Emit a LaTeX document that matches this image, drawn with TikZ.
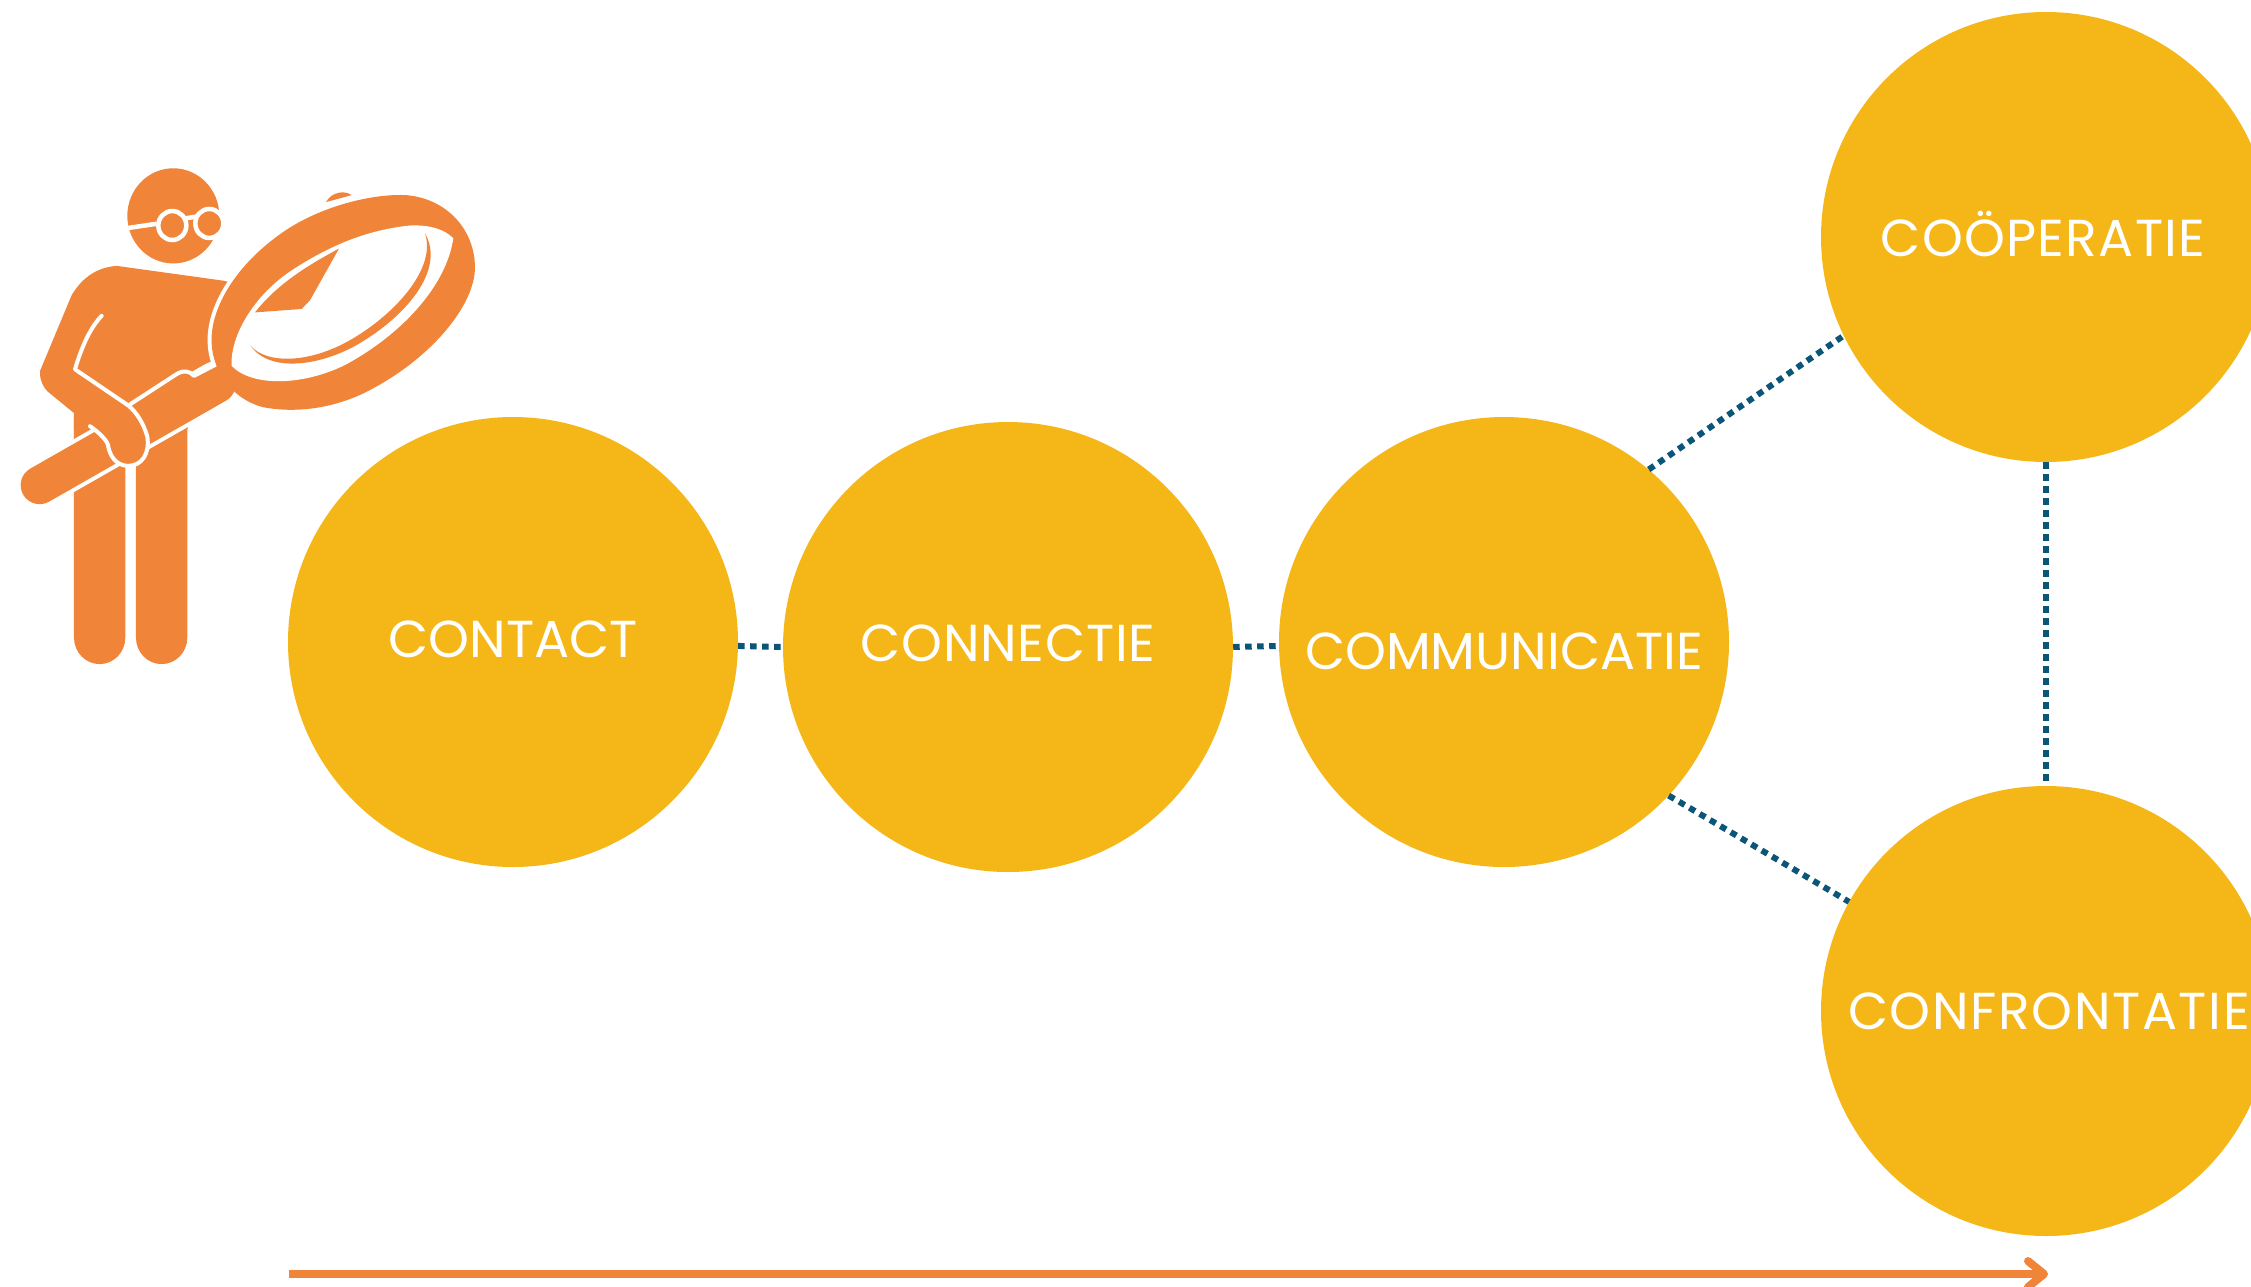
\documentclass[tikz,border=0pt]{standalone}
\usepackage{fontspec}
\setmainfont{Poppins}
\usetikzlibrary{arrows.meta}
\definecolor{gold}{HTML}{F5B618}
\definecolor{fig}{HTML}{F08539}
\definecolor{dots}{HTML}{0B5578}
\newcommand{\lbl}[3]{\raisebox{#1}[0pt][0pt]{\addfontfeature{LetterSpace=#2}#3}}
\tikzset{
  stage/.style={circle,fill=gold,minimum size=450pt,inner sep=0pt,text=white,font=\fontsize{52}{57}\selectfont},
  link/.style={draw=dots,line width=6pt,dash pattern=on 6.5pt off 5.5pt},
  white line/.style={draw=white,line width=4pt,line cap=round,line join=round},
  lensouter/.style={insert path={(1425,370) .. controls (1425,480) and (1290,640) .. (1090,735) .. controls (980,785) and (870,790) .. (790,775) .. controls (690,750) and (630,660) .. (635,570) .. controls (640,470) and (720,350) .. (860,260) .. controls (980,185) and (1130,155) .. (1220,160) .. controls (1340,170) and (1425,260) .. (1425,370) -- cycle}},
}
\begin{document}
\begin{tikzpicture}[x=1pt,y=-1pt]
\useasboundingbox (0,0) rectangle (2251,1286);
\fill[white] (0,0) rectangle (2251,1286);
\node[stage] (contact) at (513,642) {\lbl{-15.5pt}{0}{CONTACT}};
\node[stage] (connectie) at (1008,647) {\lbl{-14pt}{1.5}{CONNECTIE}};
\node[stage] (comm) at (1504,642) {\lbl{-27pt}{0}{COMMUNICATIE}};
\node[stage] (coop) at (2046,237) {\lbl{-19pt}{2.5}{COÖPERATIE}\kern6pt};
\node[stage] (conf) at (2046,1011) {\kern6pt\lbl{-18pt}{3.2}{CONFRONTATIE}};
\draw[link] (contact.359) -- (connectie.west);
\draw[link] (connectie.east) -- (comm.181.3);
\draw[link] (comm.50.5) -- (coop.206);
\draw[link] (comm.317) -- (conf.151);
\draw[link] (coop.south) -- (conf.north);
\coordinate (arrowstart) at (289,1274);
\coordinate (arrowend) at (2048,1274);
\draw[fig,line width=8pt,-{Straight Barb[length=16pt,width=26pt,round]}] (arrowstart) -- (arrowend);
\begin{scope}[shift={(0,140)},x=0.3333pt,y=-0.3448pt]
% head
\fill[fig] (520,220) circle[radius=138];
\draw[white,line width=4.5pt,fill=fig] (517,248) circle[radius=42];
\draw[white,line width=4.5pt,fill=fig] (628,242) circle[radius=42];
\draw[white,line width=4.5pt] (385,255) -- (470,243);
\draw[white,line width=4.5pt] (552,228) -- (590,222);
% legs
\fill[fig] (222,800) -- (376,800) -- (376,1443) arc[start angle=0,end angle=180,radius=77] -- cycle;
\fill[fig] (408,800) -- (562,800) -- (562,1443) arc[start angle=0,end angle=180,radius=77] -- cycle;
% torso
\fill[fig] (350,365) -- (670,408) -- (720,420) -- (720,640) -- (610,770) -- (570,815) -- (562,840) -- (222,840) -- (222,600) -- cycle;
% lens outline, handle, lens
\path[draw=white,line width=8pt,lensouter];
\draw[white,line width=46pt,line cap=round] (119,1001) -- (650,708);
\draw[fig,line width=38pt,line cap=round] (119,1001) -- (650,708);
\fill[fig] (385,770) -- (525,682) .. controls (550,665) and (570,670) .. (582,684) -- (650,650) -- (700,700) -- (450,880) -- cycle;
\draw[white line] (385,770) -- (525,682) .. controls (550,665) and (570,670) .. (582,684) -- (650,650);
\path[fill=fig,lensouter];
\fill[white] (1360,285) .. controls (1340,420) and (1210,560) .. (1040,650) .. controls (920,710) and (760,720) .. (695,655) .. controls (690,570) and (760,450) .. (880,375) .. controls (1000,300) and (1110,260) .. (1230,248) .. controls (1290,245) and (1335,260) .. (1360,285) -- cycle;
\fill[fig] (1017,315) -- (930,465) -- (905,490) -- (765,500) .. controls (830,420) and (920,365) .. (1017,315) -- cycle;
\fill[fig] (752,597) .. controls (800,665) and (930,665) .. (1060,600) .. controls (1210,520) and (1340,380) .. (1275,270) .. controls (1310,370) and (1190,500) .. (1060,575) .. controls (930,650) and (800,650) .. (752,597) -- cycle;
\fill[fig] (978,180) .. controls (995,150) and (1035,145) .. (1055,160) -- cycle;
% arm and hand
\fill[fig] (350,365) .. controls (280,370) and (240,410) .. (215,450) -- (120,670)
  .. controls (118,700) and (135,725) .. (150,735) -- (270,830)
  .. controls (310,860) and (325,875) .. (325,890)
  .. controls (335,935) and (365,945) .. (385,945)
  .. controls (425,945) and (450,910) .. (442,860)
  .. controls (425,810) and (405,785) .. (385,770) -- (225,665) -- (262,560) -- (305,510) -- cycle;
\draw[white line] (305,510) .. controls (270,545) and (245,600) .. (225,665) -- (385,770)
  .. controls (410,790) and (430,820) .. (442,860)
  .. controls (450,910) and (425,945) .. (385,945)
  .. controls (365,945) and (335,935) .. (325,890)
  .. controls (325,875) and (300,850) .. (270,830);
\end{scope}
\end{tikzpicture}
\end{document}
